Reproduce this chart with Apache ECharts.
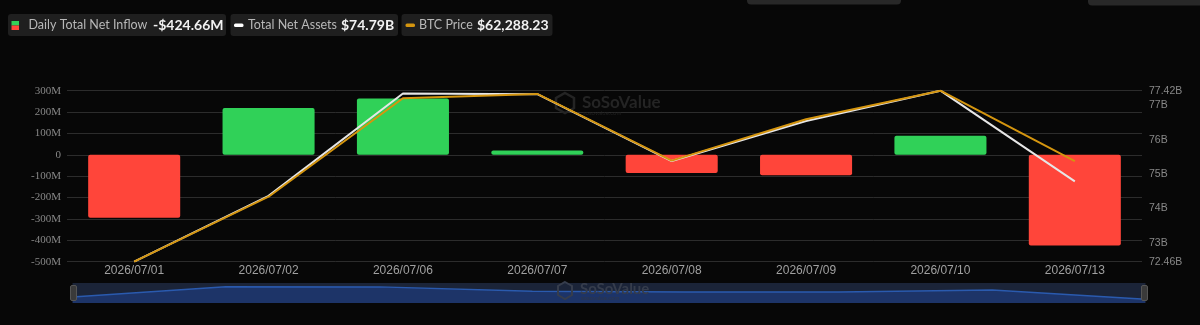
<!DOCTYPE html>
<html>
<head>
<meta charset="utf-8">
<script src="https://cdn.jsdelivr.net/npm/echarts@6/dist/echarts.min.js"></script>
<style>
html,body{margin:0;padding:0;background:#070707;}
#chart{width:1200px;height:325px;}
</style>
</head>
<body>
<div id="chart"></div>
<script>
const categories = ['2026/07/01','2026/07/02','2026/07/06','2026/07/07','2026/07/08','2026/07/09','2026/07/10','2026/07/13'];
const dailyNetInflow = [-294, 219, 264, 20, -85, -96, 89, -424.66];   // M USD
const totalNetAssets = [72.46, 74.37, 77.34, 77.32, 75.38, 76.54, 77.42, 74.79]; // B USD
const btcPrice = [56400, 60200, 65960, 66210, 62310, 64730, 66400, 62288.23];
const zoomShadow = [18, 100, 99, 64, 58, 58, 74, 0];
const leftTicks = {min: -500, max: 300, interval: 100};

const GREEN = '#30d158', RED = '#ff453a', WHITE = '#e6e6e6', ORANGE = '#d4950f';

const chart = echarts.init(document.getElementById('chart'), null, {renderer: 'canvas'});

function legendBox(x, w, iconEls, nameX, name, valueX, value) {
  return {
    type: 'group',
    children: [
      {type: 'rect', shape: {x: x, y: 14, width: w, height: 22, r: 3}, style: {fill: '#1f1f1f'}},
      ...iconEls,
      {type: 'text', x: nameX, y: 25, style: {text: name, fill: '#b8b8b8', font: '12.5px Lato', textVerticalAlign: 'middle'}},
      {type: 'text', x: valueX, y: 25, style: {text: value, fill: '#f2f2f2', font: 'bold 14px Lato', textVerticalAlign: 'middle'}}
    ]
  };
}

const option = {
  backgroundColor: '#070707',
  animation: false,
  grid: {left: 67, right: 58, top: 90.7, bottom: 63.3},
  xAxis: {
    type: 'category',
    data: categories,
    boundaryGap: true,
    axisLine: {show: false},
    axisTick: {show: false},
    axisLabel: {color: '#a0a0a0', fontSize: 12, fontFamily: 'Liberation Sans', margin: 3}
  },
  yAxis: [
    {
      type: 'value', position: 'left',
      min: leftTicks.min, max: leftTicks.max, interval: leftTicks.interval,
      axisLine: {show: false}, axisTick: {show: false},
      splitLine: {lineStyle: {color: '#2c2c2c', width: 1}},
      axisLabel: {color: '#888', fontSize: 11, fontFamily: '"Liberation Serif", "DejaVu Serif", serif', margin: 6,
        formatter: v => v === 0 ? '0' : v + 'M'}
    },
    {
      type: 'value', position: 'right',
      min: 'dataMin', max: 'dataMax', splitNumber: 5,
      axisLine: {show: false}, axisTick: {show: false}, splitLine: {show: false},
      axisLabel: {color: '#888', fontSize: 10.5, fontFamily: 'Liberation Sans', margin: 7,
        showMinLabel: true, showMaxLabel: true,
        formatter: v => (Math.round(v * 100) / 100) + 'B'}
    },
    {type: 'value', min: 'dataMin', max: 'dataMax', show: false},
    {type: 'value', min: 'dataMin', max: 'dataMax', show: false}
  ],
  dataZoom: [{
    type: 'slider',
    xAxisIndex: 0,
    left: 70, right: 57, top: 283, height: 20,
    start: 0, end: 100,
    showDetail: false,
    brushSelect: false,
    moveHandleSize: 0,
    borderColor: 'transparent',
    backgroundColor: '#1b2438',
    fillerColor: 'rgba(0,0,0,0)',
    handleIcon: 'path://M2,0 L6,0 Q8,0 8,2 L8,18 Q8,20 6,20 L2,20 Q0,20 0,18 L0,2 Q0,0 2,0 Z',
    handleSize: '75%',
    handleStyle: {color: '#3a3a3a', borderColor: '#555', borderWidth: 1},
    dataBackground: {lineStyle: {color: '#2a5aae', width: 1.5, opacity: 1}, areaStyle: {color: '#1d3468', opacity: 1}},
    selectedDataBackground: {lineStyle: {color: '#2a5aae', width: 1.5, opacity: 1}, areaStyle: {color: '#1d3468', opacity: 1}}
  }],
  series: [
    {
      name: 'zoomShadow', type: 'line', yAxisIndex: 3, data: zoomShadow,
      symbol: 'none', silent: true, lineStyle: {opacity: 0}, z: 0
    },
    {
      name: 'Daily Total Net Inflow', type: 'bar', yAxisIndex: 0, barWidth: '68.5%',
      data: dailyNetInflow.map(v => ({value: v, itemStyle: {color: v >= 0 ? GREEN : RED}})),
      itemStyle: {borderRadius: 2}, z: 2
    },
    {
      name: 'Total Net Assets', type: 'line', yAxisIndex: 1, data: totalNetAssets,
      symbol: 'none', lineStyle: {color: WHITE, width: 2}, z: 3
    },
    {
      name: 'BTC Price', type: 'line', yAxisIndex: 2, data: btcPrice,
      symbol: 'none', lineStyle: {color: ORANGE, width: 2}, z: 4
    }
  ],
  graphic: [
    legendBox(8, 218, [
      {type: 'rect', shape: {x: 11.5, y: 21, width: 7.5, height: 4.5}, style: {fill: GREEN}},
      {type: 'rect', shape: {x: 11.5, y: 25.5, width: 7.5, height: 4.5}, style: {fill: RED}}
    ], 28.5, 'Daily Total Net Inflow', 153, '-$' + Math.abs(dailyNetInflow[dailyNetInflow.length - 1]).toFixed(2) + 'M'),
    legendBox(230.5, 167.5, [
      {type: 'rect', shape: {x: 234, y: 23.5, width: 9.5, height: 3.5, r: 1.5}, style: {fill: '#ffffff'}}
    ], 248, 'Total Net Assets', 341, '$' + totalNetAssets[totalNetAssets.length - 1].toFixed(2) + 'B'),
    legendBox(401.5, 151, [
      {type: 'rect', shape: {x: 405.5, y: 23.5, width: 9.5, height: 3.5, r: 1.5}, style: {fill: ORANGE}}
    ], 419, 'BTC Price', 477, '$' + btcPrice[btcPrice.length - 1].toLocaleString('en-US', {minimumFractionDigits: 2})),
    {type: 'rect', shape: {x: 747, y: -6, width: 154, height: 10.5, r: 4}, style: {fill: '#282828'}},
    {type: 'rect', shape: {x: 1088, y: -6, width: 130, height: 11.5, r: 4}, style: {fill: '#282828'}},
    // watermarks
    {type: 'polygon', shape: {points: [[565,93],[574,98],[574,108],[565,113],[556,108],[556,98]]}, style: {fill: 'none', stroke: '#242424', lineWidth: 2.5}, z: 1},
    {type: 'text', x: 582, y: 103, style: {text: 'SoSoValue', fill: '#242424', font: 'bold 17px Lato', textVerticalAlign: 'middle'}, z: 1},
    {type: 'text', x: 583, y: 113, style: {text: 'sosovalue.com', fill: '#202020', font: '6px Lato', textVerticalAlign: 'middle'}, z: 1},
    {type: 'polygon', shape: {points: [[565,282],[572,286],[572,295],[565,299],[558,295],[558,286]]}, style: {fill: 'none', stroke: '#363d4c', lineWidth: 2}, z: 100},
    {type: 'text', x: 580, y: 289, style: {text: 'SoSoValue', fill: '#363d4c', font: 'bold 15px Lato', textVerticalAlign: 'middle'}, z: 100},
    {type: 'text', x: 581, y: 298, style: {text: 'sosovalue.com', fill: '#303746', font: '6px Lato', textVerticalAlign: 'middle'}, z: 100}
  ]
};
chart.setOption(option);
</script>
</body>
</html>
